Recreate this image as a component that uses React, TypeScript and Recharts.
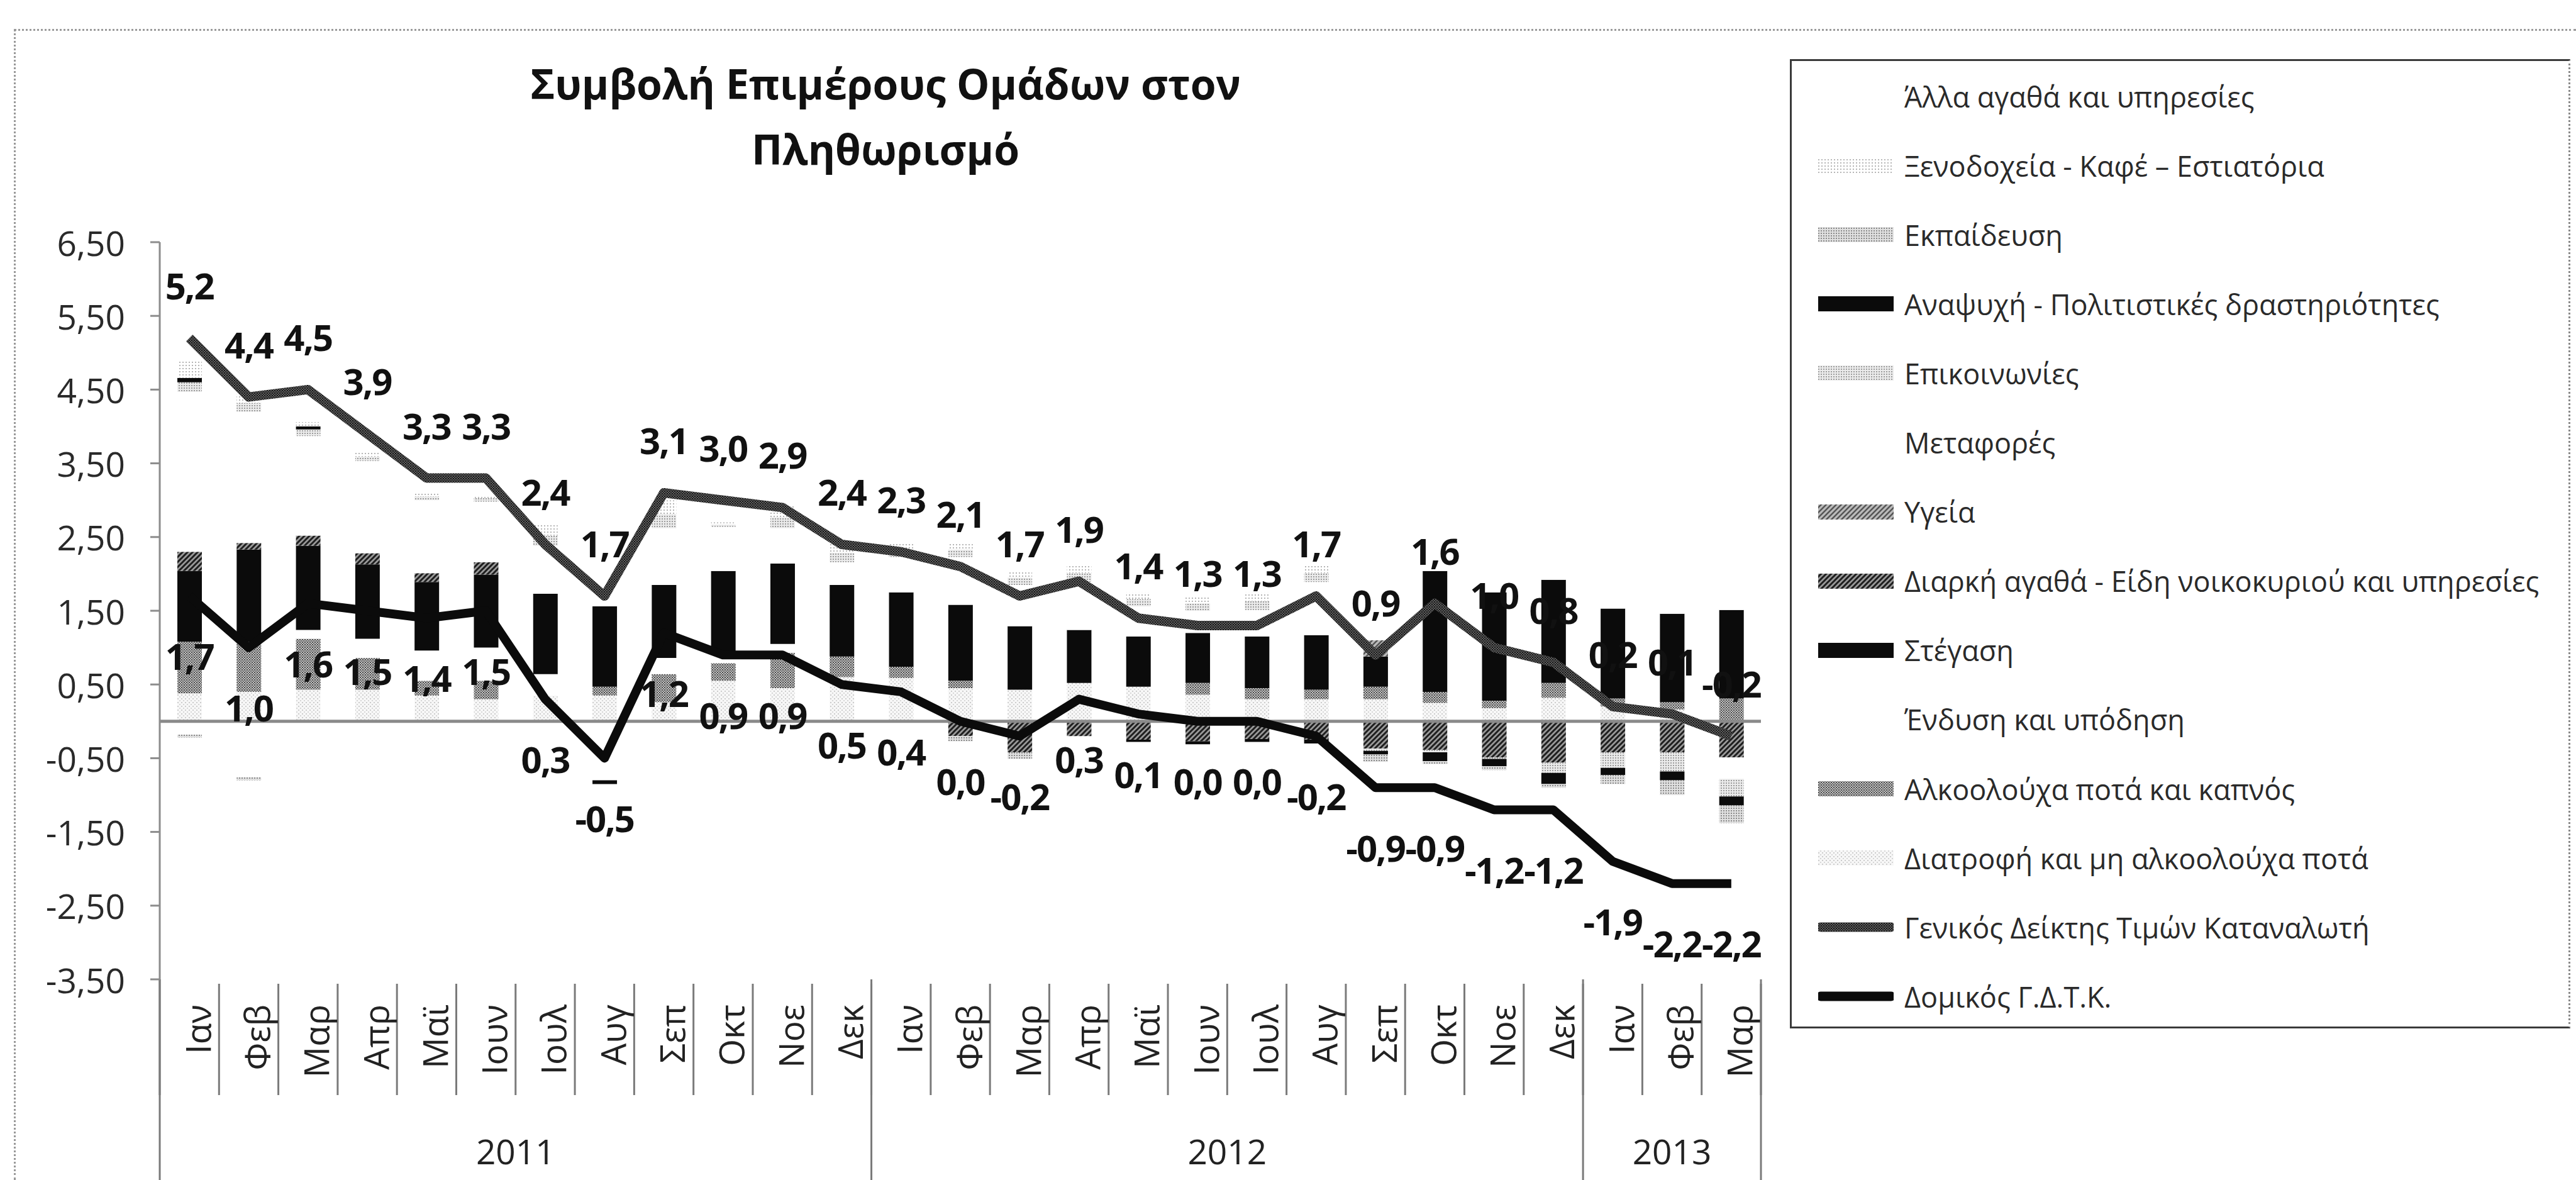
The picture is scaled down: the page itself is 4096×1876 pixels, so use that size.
import React from "react";
import { ComposedChart, Bar, Line, XAxis, YAxis, ReferenceLine, LabelList } from "recharts";

const MONTHS = ["Ιαν", "Φεβ", "Μαρ", "Απρ", "Μαϊ", "Ιουν", "Ιουλ", "Αυγ", "Σεπ", "Οκτ", "Νοε", "Δεκ",
  "Ιαν", "Φεβ", "Μαρ", "Απρ", "Μαϊ", "Ιουν", "Ιουλ", "Αυγ", "Σεπ", "Οκτ", "Νοε", "Δεκ",
  "Ιαν", "Φεβ", "Μαρ"];
const YEARS = ["2011", "2011", "2011", "2011", "2011", "2011", "2011", "2011", "2011", "2011", "2011", "2011",
  "2012", "2012", "2012", "2012", "2012", "2012", "2012", "2012", "2012", "2012", "2012", "2012",
  "2013", "2013", "2013"];

// contributions, stacked bottom -> top in this order
const FOOD = [0.38, 0.40, 0.43, 0.43, 0.35, 0.30, 0.35, 0.35, 0.26, 0.55, 0.45, 0.60, 0.59, 0.45, 0.43, 0.52, 0.47, 0.36, 0.30, 0.30, 0.30, 0.25, 0.18, 0.32, 0.20, 0.16, 0];
const ALCOHOL = [0.70, 0.68, 0.69, 0.43, 0.20, 0.25, 0, 0.12, 0.38, 0.24, 0.48, 0.28, 0.15, 0.10, 0, 0, 0, 0.16, 0.15, 0.13, 0.17, 0.15, 0.10, 0.20, 0.11, 0.10, 0.31];
const CLOTHING = [-0.18, -0.76, 0.12, 0.26, 0.41, 0.45, 0.29, -0.80, 0.22, 0.14, 0.12, 0, 0, 0, 0, 0, 0, 0, 0, 0, 0, 0, 0, 0, 0, 0, 0];
const HOUSING = [0.96, 1.25, 1.14, 1.01, 0.93, 0.99, 1.09, 1.09, 0.99, 1.11, 1.09, 0.97, 1.01, 1.03, 0.86, 0.72, 0.68, 0.68, 0.70, 0.74, 0.41, 1.64, 1.47, 1.40, 1.22, 1.20, 1.20];
const DURABLES = [0.26, 0.09, 0.14, 0.15, 0.12, 0.17, 0, 0, 0, 0, 0, 0, 0, -0.20, -0.42, -0.20, -0.25, -0.27, -0.24, -0.25, -0.37, -0.39, -0.49, -0.56, -0.42, -0.42, -0.49];
const HEALTH = [0, 0, 0, 0, 0, 0, 0, 0, 0, 0, 0, 0, 0, 0, 0, 0, 0, 0, 0, 0, 0.22, 0, 0, 0, 0, 0, 0];
const TRANSPORT = [2.17, 1.78, 1.35, 1.25, 0.99, 0.82, 0.65, 0.10, 0.77, 0.60, 0.48, 0.31, 0.48, 0.65, 0.56, 0.65, 0.41, 0.30, 0.36, 0.72, 0, 0, 0, 0, 0, 0, -0.29];
const COMMS = [0.13, 0.12, 0.09, 0.06, 0.05, 0.05, 0.14, 0, 0.19, 0.03, 0.15, 0.13, 0.10, 0.10, 0.10, 0.12, 0.10, 0.10, 0.12, 0.12, -0.03, -0.03, -0.02, -0.14, -0.21, -0.26, -0.24];
const RECREATION = [0.06, 0, 0.04, 0, 0, 0, 0, -0.05, 0, 0, 0, 0, 0, 0, 0, 0, -0.03, -0.04, -0.04, -0.05, -0.05, -0.12, -0.10, -0.15, -0.10, -0.12, -0.12];
const EDUCATION = [-0.04, -0.04, 0, 0, 0, 0, 0, 0, 0, 0, 0, 0, 0, -0.07, -0.09, 0, 0, 0, 0, 0, -0.10, -0.04, -0.05, -0.05, -0.12, -0.20, -0.24];
const HOTELS = [0.22, 0.12, 0.06, 0.06, 0.05, 0.04, 0.14, 0, 0.19, 0.03, 0.16, 0.13, 0.09, 0.09, 0.09, 0.12, 0.09, 0.10, 0.12, 0.12, 0, 0, 0, 0, 0, 0, 0];
const OTHER = [0.5, 0.4, 0.4, 0.3, 0.3, 0.3, 0.2, 0.2, 0.2, 0.3, 0.1, 0.1, 0.1, 0.1, 0.1, 0.1, 0.1, 0.1, 0.1, 0.1, 0.05, 0.05, 0.05, 0.05, 0.05, 0.05, 0.05];

const CPI = [5.2, 4.4, 4.5, 3.9, 3.3, 3.3, 2.4, 1.7, 3.1, 3.0, 2.9, 2.4, 2.3, 2.1, 1.7, 1.9, 1.4, 1.3, 1.3, 1.7, 0.9, 1.6, 1.0, 0.8, 0.2, 0.1, -0.2];
const CORE = [1.7, 1.0, 1.6, 1.5, 1.4, 1.5, 0.3, -0.5, 1.2, 0.9, 0.9, 0.5, 0.4, 0.0, -0.2, 0.3, 0.1, 0.0, 0.0, -0.2, -0.9, -0.9, -1.2, -1.2, -1.9, -2.2, -2.2];

const Y_TICKS = [-3.5, -2.5, -1.5, -0.5, 0.5, 1.5, 2.5, 3.5, 4.5, 5.5, 6.5];

const BARS = [
  { key: "food", name: "Διατροφή και μη αλκοολούχα ποτά", fill: "url(#pFood)", values: FOOD },
  { key: "alcohol", name: "Αλκοολούχα ποτά και καπνός", fill: "url(#pAlc)", values: ALCOHOL },
  { key: "clothing", name: "Ένδυση και υπόδηση", fill: "#ffffff", values: CLOTHING },
  { key: "housing", name: "Στέγαση", fill: "#0b0b0b", values: HOUSING },
  { key: "durables", name: "Διαρκή αγαθά - Είδη νοικοκυριού και υπηρεσίες", fill: "url(#pDur)", values: DURABLES },
  { key: "health", name: "Υγεία", fill: "url(#pHealth)", values: HEALTH },
  { key: "transport", name: "Μεταφορές", fill: "#ffffff", values: TRANSPORT },
  { key: "comms", name: "Επικοινωνίες", fill: "url(#pComm)", values: COMMS },
  { key: "recreation", name: "Αναψυχή - Πολιτιστικές δραστηριότητες", fill: "#0b0b0b", values: RECREATION },
  { key: "education", name: "Εκπαίδευση", fill: "url(#pEdu)", values: EDUCATION },
  { key: "hotels", name: "Ξενοδοχεία - Καφέ – Εστιατόρια", fill: "url(#pHotel)", values: HOTELS },
  { key: "other", name: "Άλλα αγαθά και υπηρεσίες", fill: "#ffffff", values: OTHER },
];
const LINES = [
  { key: "cpi", name: "Γενικός Δείκτης Τιμών Καταναλωτή", stroke: "url(#pCpi)", values: CPI },
  { key: "core", name: "Δομικός Γ.Δ.Τ.Κ.", stroke: "#0b0b0b", values: CORE },
];

const data = MONTHS.map((m, i) => {
  const row: any = { month: m, year: YEARS[i] };
  BARS.forEach((b) => (row[b.key] = b.values[i]));
  LINES.forEach((l) => (row[l.key] = l.values[i]));
  return row;
});

const W = 4096;
const H = 1876;
const FONT = "'Open Sans', 'Noto Sans', sans-serif";
const PLOT_LEFT = 254;
const PLOT_RIGHT = 2800;
const PLOT_TOP = 385;
const MONTH_AXIS_H = 184;
const YEAR_AXIS_H = 135;
const BAND = (PLOT_RIGHT - PLOT_LEFT) / MONTHS.length;

const fmt1 = (v: number) => v.toFixed(1).replace(".", ",");
const fmt2 = (v: number) => v.toFixed(2).replace(".", ",");

const makeLabel = (dy: number) => (p: any) => {
  const x = p.x ?? p.viewBox?.x;
  const y = p.y ?? p.viewBox?.y;
  if (x == null || y == null) return null;
  return (
    <text x={x} y={y + dy} textAnchor="middle" dominantBaseline="central" letterSpacing={-2}
      fontFamily={FONT} fontSize={58} fontWeight={700} fill="#111">
      {fmt1(Number(p.value))}
    </text>
  );
};

const YTick = (props: any) => {
  const { y, payload } = props;
  return (
    <g>
      <line x1={PLOT_LEFT - 15} x2={PLOT_LEFT} y1={y} y2={y} stroke="#8c8c8c" strokeWidth={3} />
      <text x={PLOT_LEFT - 55} y={y} textAnchor="end" dominantBaseline="central"
        fontFamily={FONT} fontSize={55} fill="#2a2a2a">
        {fmt2(payload.value)}
      </text>
    </g>
  );
};

const MonthTick = (props: any) => {
  const { x, y, payload, index } = props;
  return (
    <g>
      <line x1={x + BAND / 2} x2={x + BAND / 2} y1={y + 7} y2={y + MONTH_AXIS_H} stroke="#7a7a7a" strokeWidth={3} />
      {index === 0 && (
        <line x1={x - BAND / 2} x2={x - BAND / 2} y1={y} y2={y + MONTH_AXIS_H} stroke="#7a7a7a" strokeWidth={3} />
      )}
      <text transform={`translate(${x + 12},${y + 40}) rotate(-90)`} textAnchor="end" dominantBaseline="central"
        fontFamily={FONT} fontSize={55} fill="#222">
        {payload.value}
      </text>
    </g>
  );
};

const YearTick = (props: any) => {
  const { x, y, index } = props;
  const yr = YEARS[index];
  const start = YEARS.indexOf(yr);
  const end = YEARS.lastIndexOf(yr) + 1;
  const center = (start + end - 1) / 2;
  return (
    <g>
      {index === start && (
        <line x1={x - BAND / 2} x2={x - BAND / 2} y1={y - MONTH_AXIS_H} y2={y + YEAR_AXIS_H} stroke="#7a7a7a" strokeWidth={3} />
      )}
      {index === YEARS.length - 1 && (
        <line x1={x + BAND / 2} x2={x + BAND / 2} y1={y - MONTH_AXIS_H} y2={y + YEAR_AXIS_H} stroke="#7a7a7a" strokeWidth={3} />
      )}
      {index === Math.floor(center) && (
        <text x={x + (center - index) * BAND} y={y + 88} textAnchor="middle" dominantBaseline="central"
          fontFamily={FONT} fontSize={55} fill="#222">
          {yr}
        </text>
      )}
    </g>
  );
};

const Patterns = () => (
  <svg width={0} height={0} style={{ position: "absolute" }}>
    <defs>
      <pattern id="pFood" width={6} height={6} patternUnits="userSpaceOnUse">
        <rect width={6} height={6} fill="#f7f7f7" />
        <rect width={2} height={2} fill="#cccccc" />
        <rect x={3} y={3} width={2} height={2} fill="#d6d6d6" />
      </pattern>
      <pattern id="pAlc" width={4} height={4} patternUnits="userSpaceOnUse">
        <rect width={4} height={4} fill="#c2c2c2" />
        <rect width={2} height={2} fill="#4a4a4a" />
        <rect x={2} y={2} width={2} height={2} fill="#6a6a6a" />
      </pattern>
      <pattern id="pDur" width={8} height={8} patternUnits="userSpaceOnUse">
        <rect width={8} height={8} fill="#9a9a9a" />
        <path d="M-2,2 l4,-4 M0,8 l8,-8 M6,10 l4,-4" stroke="#1e1e1e" strokeWidth={3} />
      </pattern>
      <pattern id="pHealth" width={8} height={8} patternUnits="userSpaceOnUse">
        <rect width={8} height={8} fill="#bbbbbb" />
        <path d="M-2,2 l4,-4 M0,8 l8,-8 M6,10 l4,-4" stroke="#555555" strokeWidth={2.5} />
      </pattern>
      <pattern id="pComm" width={4} height={4} patternUnits="userSpaceOnUse">
        <rect width={4} height={4} fill="#ebebeb" />
        <rect width={2} height={2} fill="#9c9c9c" />
      </pattern>
      <pattern id="pEdu" width={4} height={4} patternUnits="userSpaceOnUse">
        <rect width={4} height={4} fill="#e0e0e0" />
        <rect width={2} height={2} fill="#8a8a8a" />
      </pattern>
      <pattern id="pHotel" width={5} height={5} patternUnits="userSpaceOnUse">
        <rect width={5} height={5} fill="#ffffff" />
        <rect width={2} height={2} fill="#b5b5b5" />
      </pattern>
      <pattern id="pCpi" width={4} height={4} patternUnits="userSpaceOnUse">
        <rect width={4} height={4} fill="#5c5c5c" />
        <rect width={2} height={2} fill="#161616" />
        <rect x={2} y={2} width={2} height={2} fill="#262626" />
      </pattern>
    </defs>
  </svg>
);

const LegendBox = () => {
  const items = [
    ...[...BARS].reverse().map((b) => ({ name: b.name, kind: "bar", color: b.fill })),
    ...LINES.map((l) => ({ name: l.name, kind: "line", color: l.stroke })),
  ];
  return (
    <div style={{ position: "absolute", left: 2846, top: 94, width: 1241, height: 1541, boxSizing: "border-box",
      border: "3px solid #3a3a3a", borderRight: "3px dotted #8a8a8a", background: "#fff" }}>
      {items.map((it, k) => (
        <div key={k} style={{ position: "absolute", left: 42, top: 56 + k * 110.1 - 26, height: 52,
          display: "flex", alignItems: "center", whiteSpace: "nowrap" }}>
          <svg width={120} height={30} style={{ marginRight: 17 }}>
            {it.kind === "bar" ? (
              <rect x={0} y={3} width={120} height={24} fill={it.color} />
            ) : (
              <line x1={4} x2={116} y1={15} y2={15} stroke={it.color} strokeWidth={15} strokeLinecap="round" />
            )}
          </svg>
          <span style={{ fontFamily: FONT, fontSize: 45, color: "#2a2a2a" }}>{it.name}</span>
        </div>
      ))}
    </div>
  );
};

export default function App() {
  return (
    <div style={{ position: "absolute", left: 0, top: 0, width: W, height: H, overflow: "hidden", background: "#fff" }}>
      <Patterns />
      <div style={{ position: "absolute", left: 22, top: 46, width: W - 22, height: H - 46, boxSizing: "border-box",
        borderTop: "3px dotted #9a9a9a", borderLeft: "3px dotted #9a9a9a" }} />
      <div style={{ position: "absolute", left: 708, top: 80, width: 1400, textAlign: "center",
        fontFamily: FONT, fontWeight: 700, fontSize: 66, lineHeight: "104px", color: "#111" }}>
        Συμβολή Επιμέρους Ομάδων στον<br />Πληθωρισμό
      </div>
      <div style={{ position: "absolute", left: 0, top: 0 }}>
        <ComposedChart width={W} height={H} data={data} stackOffset="sign"
          margin={{ top: PLOT_TOP, right: W - PLOT_RIGHT, bottom: 0, left: 0 }}>
          <XAxis dataKey="month" interval={0} height={MONTH_AXIS_H} axisLine={false} tickLine={false}
            tickSize={0} tickMargin={0} tick={<MonthTick />} />
          <XAxis xAxisId="year" dataKey="year" interval={0} height={YEAR_AXIS_H} axisLine={false} tickLine={false}
            tickSize={0} tickMargin={0} tick={<YearTick />} />
          <YAxis type="number" domain={[-3.5, 6.5]} ticks={Y_TICKS} interval={0} width={PLOT_LEFT} allowDataOverflow
            axisLine={{ stroke: "#8c8c8c", strokeWidth: 3 }} tickLine={false} tick={<YTick />} />
          {BARS.map((b) => (
            <Bar key={b.key} dataKey={b.key} name={b.name} stackId="s" fill={b.fill} barSize={39}
              isAnimationActive={false} />
          ))}
          <ReferenceLine y={0} stroke="#8a8a8a" strokeWidth={5} />
          <Line dataKey="cpi" name={LINES[0].name} type="linear" stroke={LINES[0].stroke} strokeWidth={15}
            strokeLinejoin="round" dot={false} isAnimationActive={false}>
            <LabelList dataKey="cpi" content={makeLabel(-84)} />
          </Line>
          <Line dataKey="core" name={LINES[1].name} type="linear" stroke={LINES[1].stroke} strokeWidth={14}
            strokeLinejoin="round" dot={false} isAnimationActive={false}>
            <LabelList dataKey="core" content={makeLabel(95)} />
          </Line>
        </ComposedChart>
      </div>
      <LegendBox />
    </div>
  );
}
